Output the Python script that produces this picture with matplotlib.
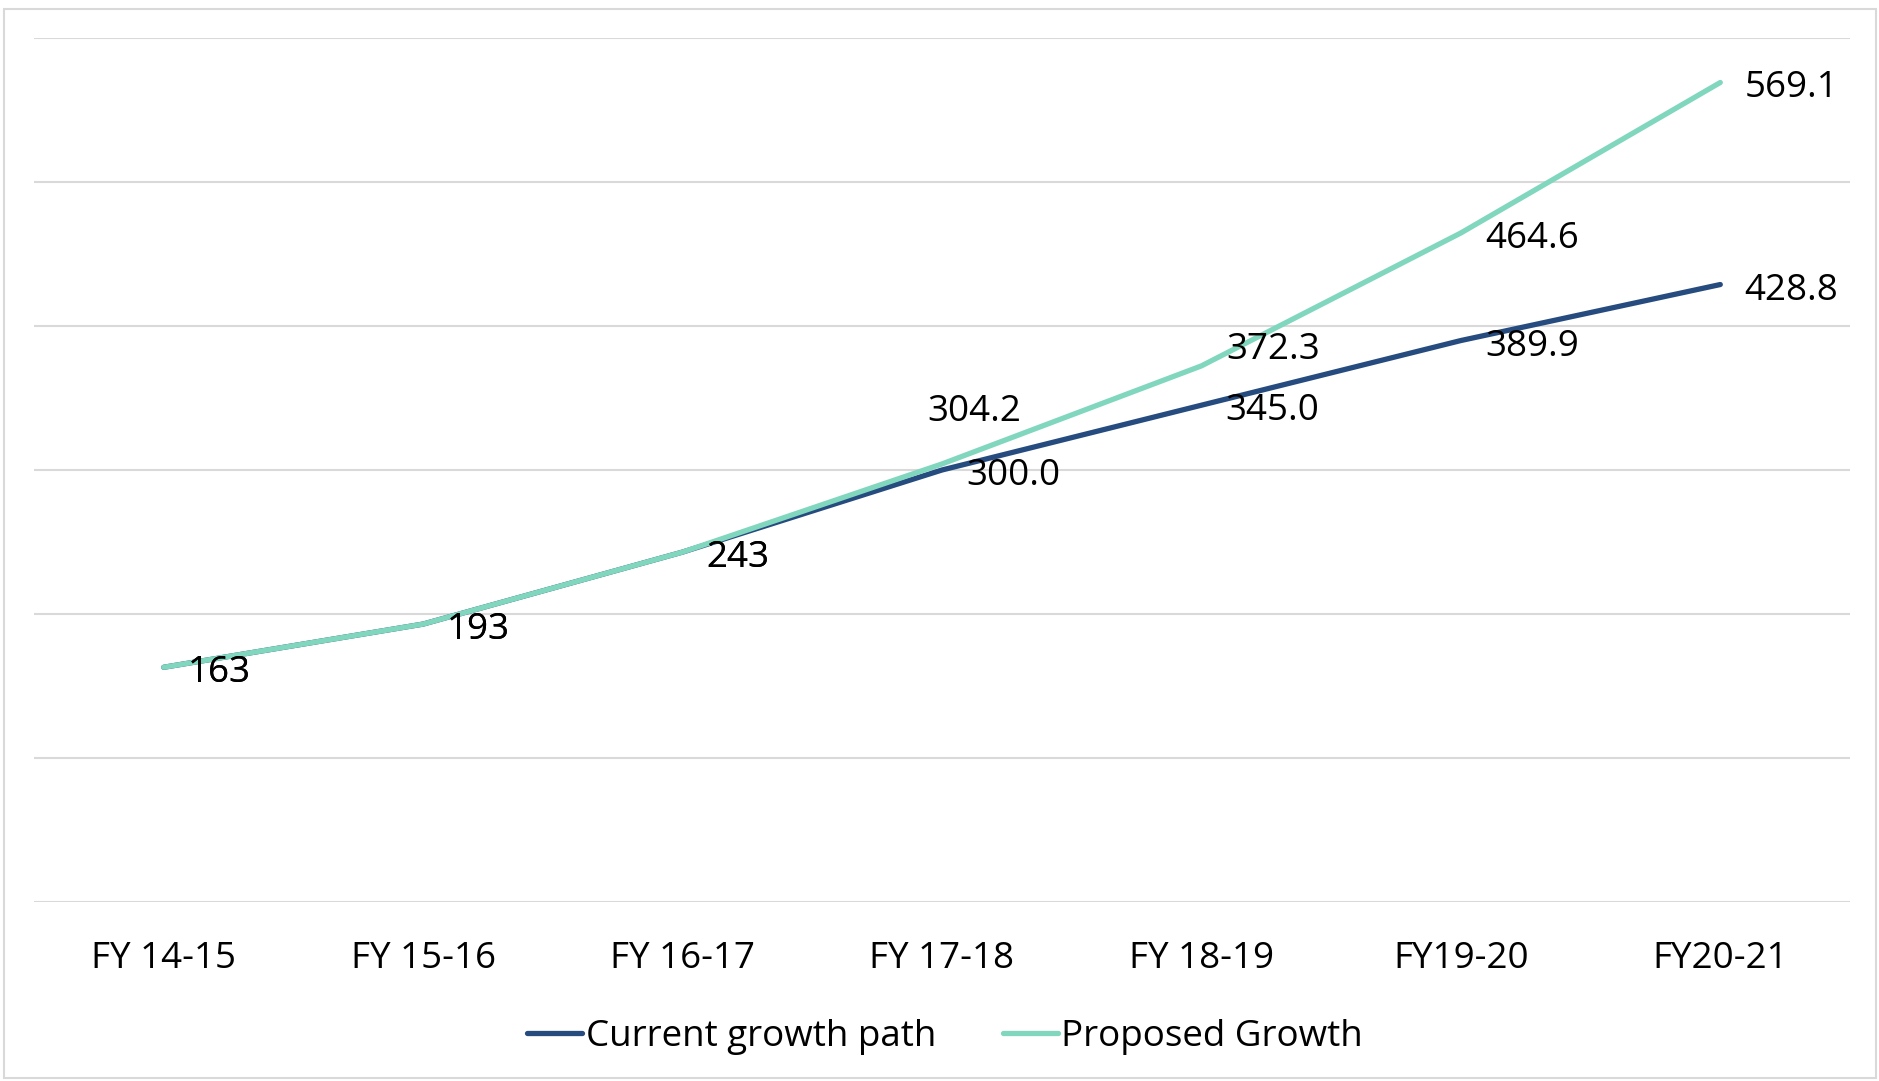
import matplotlib.pyplot as plt
from matplotlib.patches import Rectangle

years = ["FY 14-15", "FY 15-16", "FY 16-17", "FY 17-18", "FY 18-19", "FY19-20", "FY20-21"]
current_growth = [163, 193, 243, 300.0, 345.0, 389.9, 428.8]
proposed_growth = [163, 193, 243, 304.2, 372.3, 464.6, 569.1]
current_labels = ["163", "193", "243", "300.0", "345.0", "389.9", "428.8"]
proposed_labels = ["163", "193", "243", "304.2", "372.3", "464.6", "569.1"]

CURRENT_COLOR = "#264B7F"
PROPOSED_COLOR = "#80D7BE"
GRID_COLOR = "#D9D9D9"

plt.rcParams["font.family"] = ["Open Sans", "DejaVu Sans"]

fig = plt.figure(figsize=(18.79, 10.81), dpi=100)
ax = fig.add_axes([34 / 1879, 1 - 902 / 1081, (1850 - 34) / 1879, (902 - 38) / 1081])

x = list(range(len(years)))
ax.plot(x, current_growth, color=CURRENT_COLOR, lw=3.8, solid_capstyle="round",
        label="Current growth path", zorder=3)
ax.plot(x, proposed_growth, color=PROPOSED_COLOR, lw=3.8, solid_capstyle="round",
        label="Proposed Growth", zorder=4)

# data labels sit to the right of each point, a couple nudged upward
proposed_offsets = {3: (-15, 52), 4: (25, 16)}
for i, (v, txt) in enumerate(zip(current_growth, current_labels)):
    ax.annotate(txt, (i, v), xytext=(24, -6), textcoords="offset pixels",
                ha="left", va="center", fontsize=26.5, zorder=5)
for i, (v, txt) in enumerate(zip(proposed_growth, proposed_labels)):
    dx, dy = proposed_offsets.get(i, (24, -6))
    ax.annotate(txt, (i, v), xytext=(dx, dy), textcoords="offset pixels",
                ha="left", va="center", fontsize=26.5, zorder=5)

ax.set_xlim(-0.5, len(years) - 0.5)
ax.set_ylim(0, 600)
ax.set_yticks(range(0, 601, 100))
ax.yaxis.grid(True, color=GRID_COLOR, lw=1.5)
ax.set_axisbelow(True)
ax.tick_params(axis="y", left=False, labelleft=False)
ax.set_xticks(x)
ax.set_xticklabels(years, fontsize=26.5)
ax.tick_params(axis="x", length=0, pad=28)
for s in ax.spines.values():
    s.set_visible(False)

fig.legend(loc="center", bbox_to_anchor=(0.503, 0.041), ncol=2, frameon=False,
           fontsize=26.5, handlelength=1.5, handletextpad=0.1, columnspacing=1.8)

fig.add_artist(Rectangle((4 / 1879, 3 / 1081), 1872 / 1879, 1069 / 1081,
                         transform=fig.transFigure, fill=False,
                         ec=GRID_COLOR, lw=1.5))

fig.savefig("out.png", dpi=100)
